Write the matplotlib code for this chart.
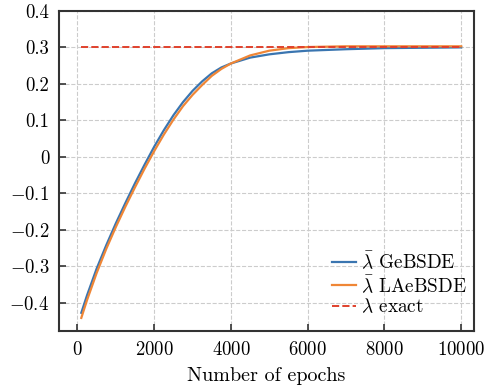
import matplotlib
matplotlib.use('Agg')
import matplotlib.pyplot as plt

# Values
epochs = [100, 250, 500, 750, 1000, 1250, 1500, 1750, 2000, 2250, 2500, 2750,
          3000, 3250, 3500, 3750, 4000, 4500, 5000, 5500, 6000, 7000, 8000,
          9000, 10000]
lam_ge = [-0.427, -0.379, -0.306, -0.242, -0.182, -0.126, -0.072, -0.021,
          0.028, 0.073, 0.114, 0.150, 0.181, 0.207, 0.229, 0.245, 0.256,
          0.272, 0.281, 0.287, 0.291, 0.295, 0.298, 0.299, 0.300]
lam_la = [-0.441, -0.392, -0.318, -0.252, -0.192, -0.136, -0.083, -0.032,
          0.016, 0.061, 0.102, 0.139, 0.170, 0.197, 0.222, 0.241, 0.256,
          0.278, 0.291, 0.298, 0.301, 0.303, 0.303, 0.303, 0.303]

exact_x = [100, 10000]
exact_val = 0.3

plt.rcParams['font.family'] = 'serif'
plt.rcParams['font.serif'] = ['cmr10', 'DejaVu Serif']
plt.rcParams['mathtext.fontset'] = 'cm'
plt.rcParams['axes.formatter.use_mathtext'] = True
plt.rcParams['font.size'] = 13.5

fig = plt.figure(figsize=(4.88, 3.89), dpi=100)
ax = fig.add_axes([0.121, 0.149, 0.850, 0.823])

ax.plot(epochs, lam_ge, color='#3a75b0', lw=1.6, label=r'$\bar{\lambda}$ GeBSDE')
ax.plot(epochs, lam_la, color='#ef8636', lw=1.6, label=r'$\bar{\lambda}$ LAeBSDE')
ax.plot(exact_x, [exact_val, exact_val], color='#e0412c', lw=1.4, ls='--',
        label=r'$\lambda$ exact')

ax.set_xlim(-480, 10330)
ax.set_ylim(-0.477, 0.4)
ax.set_xticks([0, 2000, 4000, 6000, 8000, 10000])
ax.set_yticks([-0.4, -0.3, -0.2, -0.1, 0, 0.1, 0.2, 0.3, 0.4])
ax.set_yticklabels([r'$-0.4$', r'$-0.3$', r'$-0.2$', r'$-0.1$', '0',
                    '0.1', '0.2', '0.3', '0.4'])
ax.set_xlabel('Number of epochs', fontsize=14.5, labelpad=6)

ax.grid(True, ls='--', color='#cccccc', lw=0.8)
ax.tick_params(direction='in', length=5, width=1.2, color='#333333', pad=7)
for s in ax.spines.values():
    s.set_linewidth(1.5)
    s.set_color('#333333')

ax.legend(loc='lower right', bbox_to_anchor=(1.0, 0.025), frameon=False,
          fontsize=13.8, handlelength=1.25, handletextpad=0.3,
          labelspacing=0.1, borderpad=0.2, borderaxespad=0.15)

fig.savefig('out.png', dpi=100)
